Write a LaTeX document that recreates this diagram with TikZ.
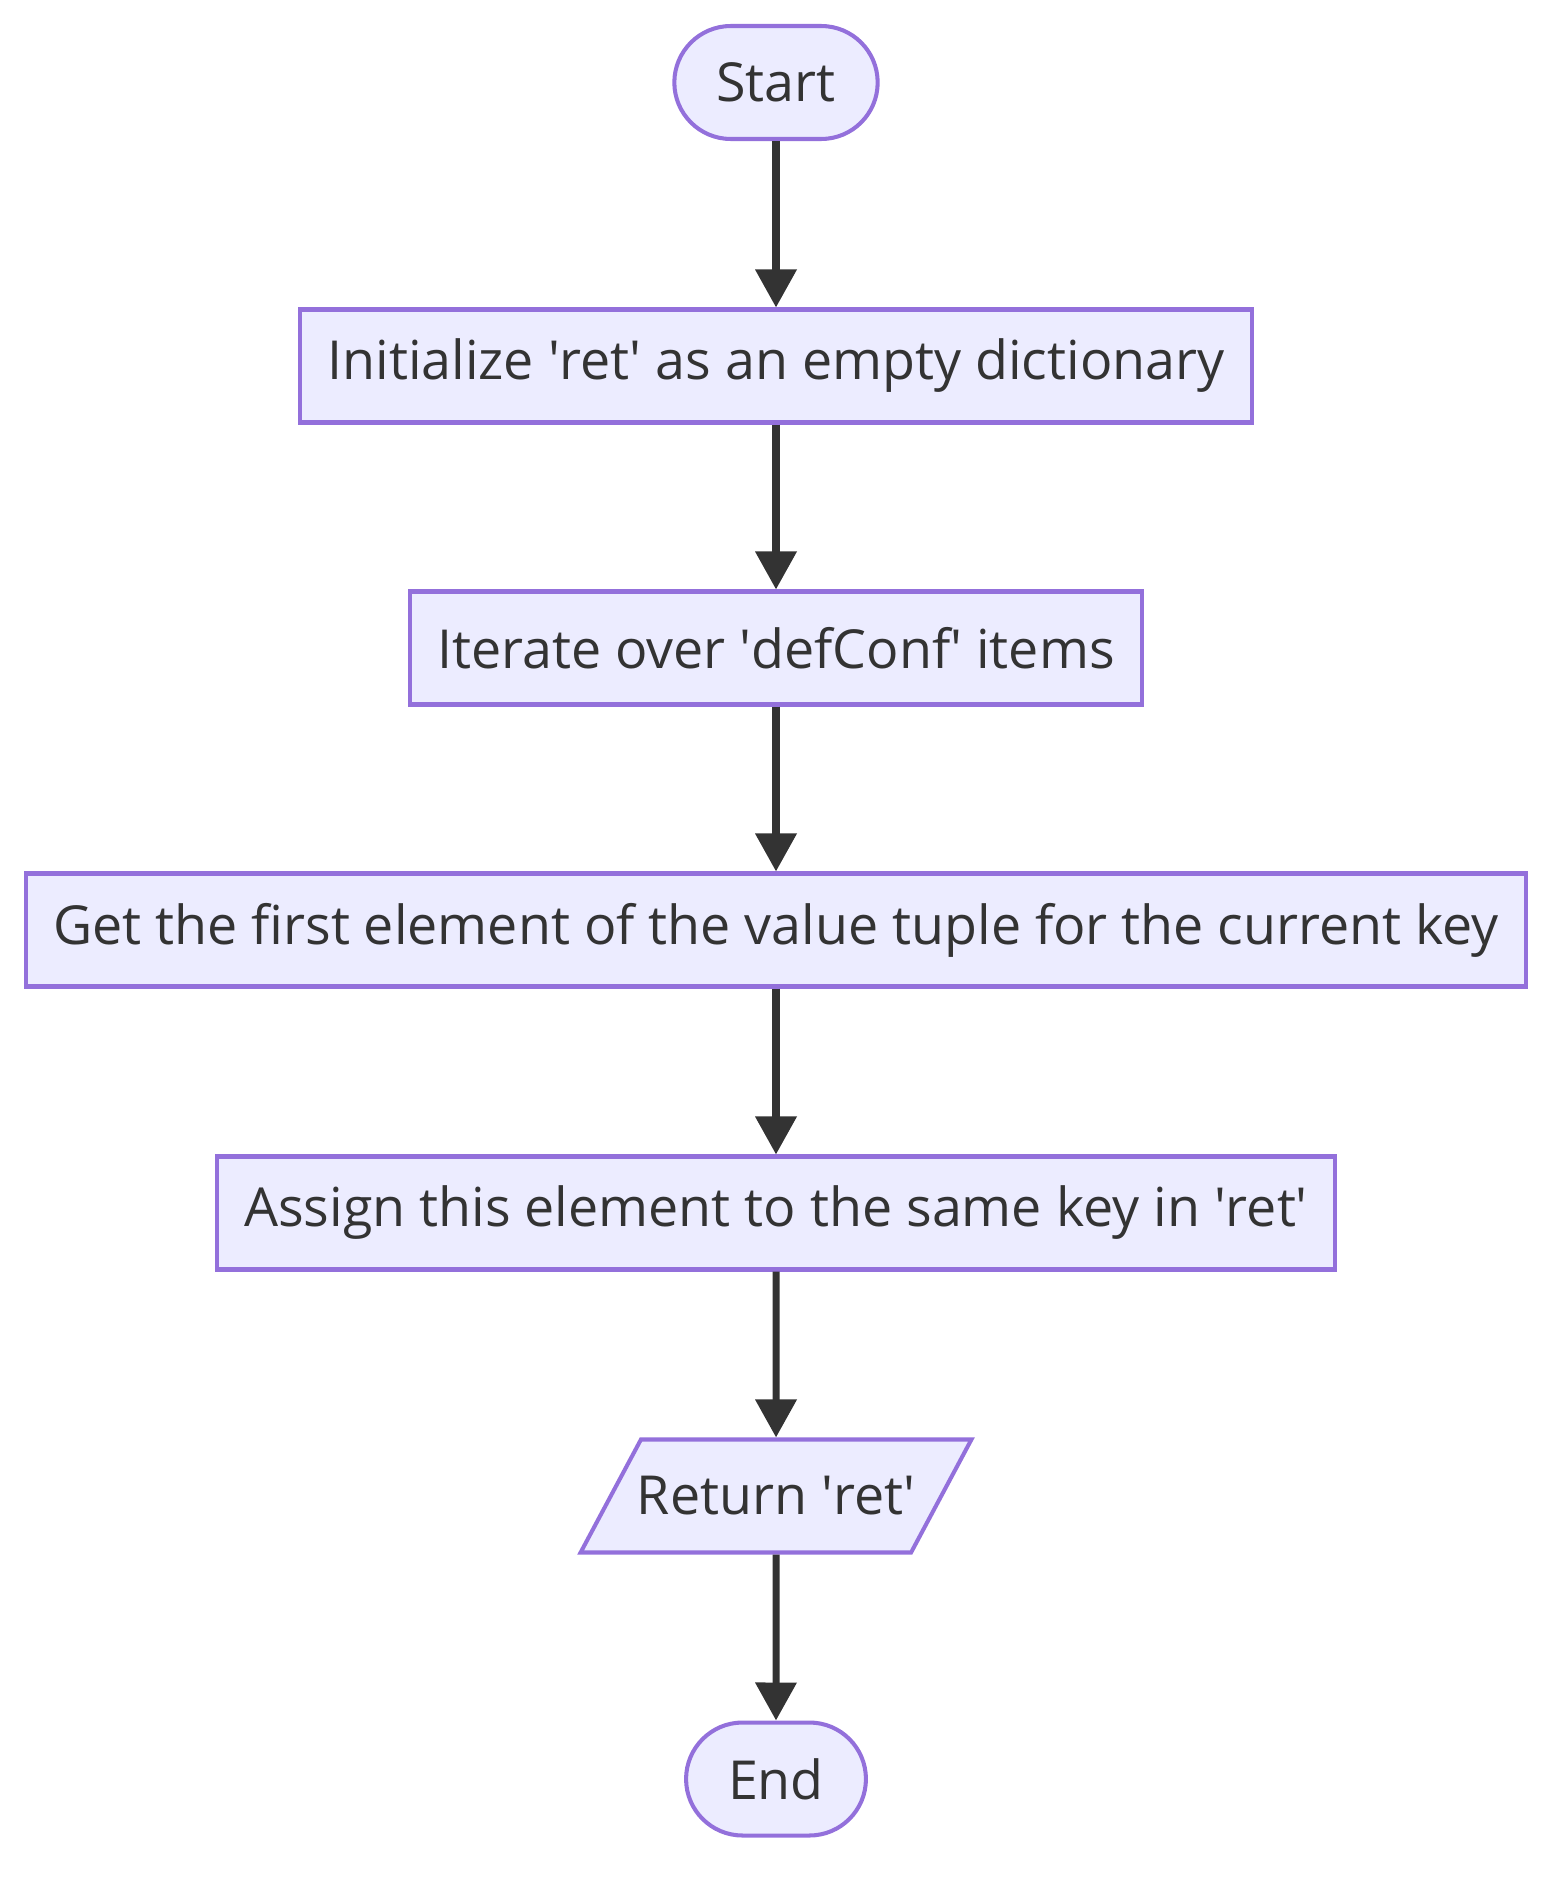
\documentclass[tikz,border=0pt]{standalone}
\usepackage{fontspec}
\setmainfont{Open Sans}
\usetikzlibrary{arrows.meta,shapes.geometric}
\definecolor{boxfill}{HTML}{ECECFF}
\definecolor{boxline}{HTML}{9370DB}
\definecolor{inkgray}{HTML}{333333}
\newcommand{\sq}{\textquotesingle}
\tikzset{
  stepbox/.style={draw=boxline, fill=boxfill, line width=2.3pt, text=inkgray,
    minimum height=2.26cm, inner xsep=0.54cm, font=\fontsize{30.6}{36}\selectfont},
  termbox/.style={stepbox, rounded corners=1.13cm, inner xsep=0.84cm},
  iobox/.style={stepbox, trapezium, trapezium left angle=40, trapezium right angle=140,
    trapezium stretches=true, inner xsep=-0.08cm},
  flow/.style={draw=inkgray, line width=4pt, -{Triangle[width=0.8cm,length=0.76cm]}}
}
\begin{document}
\begin{tikzpicture}

% Fix the page to the reference size
\useasboundingbox (0,0) rectangle (31.36,-37.64);

% Define the centre line of the chart
\def\midx{15.52}

% Draw start and end
\node[termbox] (start) at (\midx,-1.65) {Start};
\node[termbox] (stop) at (\midx,-35.58) {End};

% Draw the steps
\node[stepbox] (init) at (\midx,-7.32) {Initialize \sq ret\sq{} as an empty dictionary};
\node[stepbox] (iter) at (\midx,-12.96) {Iterate over \sq defConf\sq{} items};
\node[stepbox] (first) at (\midx,-18.6) {Get the first element of the value tuple for the current key};
\node[stepbox] (assign) at (\midx,-24.26) {Assign this element to the same key in \sq ret\sq};

% Draw the output
\node[iobox] (ret) at (\midx,-29.92) {Return \sq ret\sq};

% Connect the boxes
\draw[flow] (start) -- (init);
\draw[flow] (init) -- (iter);
\draw[flow] (iter) -- (first);
\draw[flow] (first) -- (assign);
\draw[flow] (assign) -- (ret);
\draw[flow] (ret) -- (stop);

\end{tikzpicture}
\end{document}
